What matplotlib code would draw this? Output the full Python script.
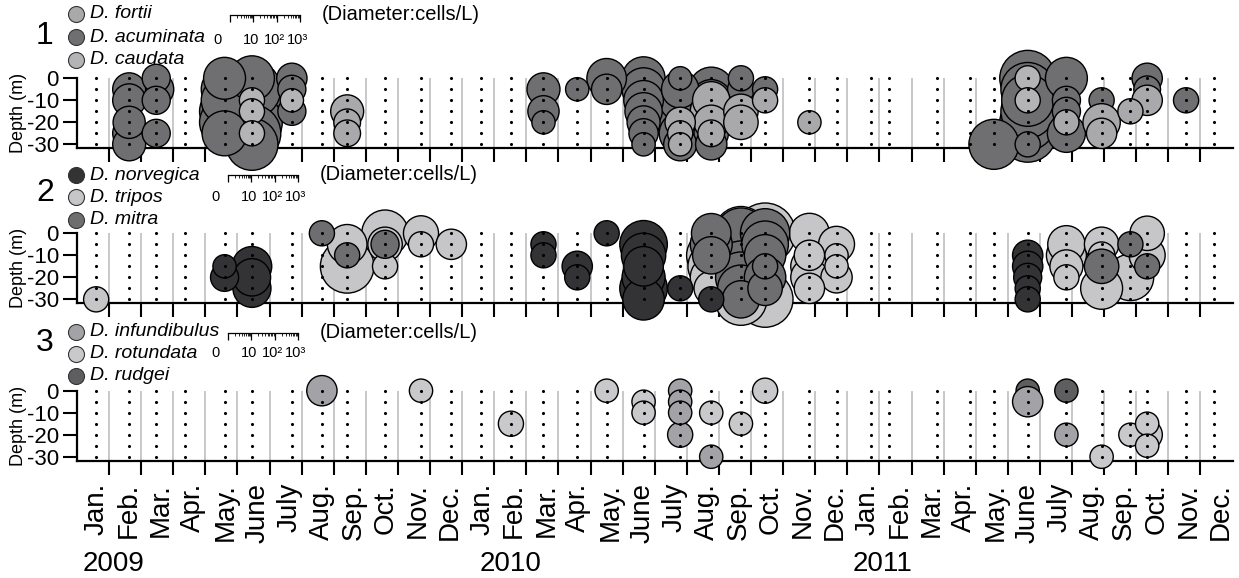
import calendar
import numpy as np
import matplotlib.pyplot as plt
from matplotlib.transforms import blended_transform_factory

plt.rcParams['font.family'] = ['Liberation Sans', 'DejaVu Sans']

W, H = 1239, 578

# sampling dates (one cruise per month)
sample_dates = [
    '2009-01-19', '2009-02-18', '2009-03-15', '2009-04-11', '2009-05-19', '2009-06-14',
    '2009-07-22', '2009-08-20', '2009-09-13', '2009-10-19', '2009-11-22', '2009-12-21',
    '2010-01-19', '2010-02-15', '2010-03-17', '2010-04-18', '2010-05-16', '2010-06-20',
    '2010-07-25', '2010-08-24', '2010-09-21', '2010-10-14', '2010-11-25', '2010-12-21',
    '2011-01-23', '2011-02-09', '2011-03-25', '2011-04-25', '2011-05-18', '2011-06-19',
    '2011-07-26', '2011-08-29', '2011-09-25', '2011-10-11', '2011-11-17', '2011-12-14',
]
depths = [0, -5, -10, -15, -20, -25, -30]

month_names = ['Jan.', 'Feb.', 'Mar.', 'Apr.', 'May.', 'June', 'July',
               'Aug.', 'Sep.', 'Oct.', 'Nov.', 'Dec.']
years = ['2009', '2010', '2011']
year_pos = [1.14, 13.5, 25.1]

# (month, depth m, cells/L)
fortii = [('2009-09', -15, 26), ('2009-09', -20, 14), ('2009-09', -25, 14),
          ('2010-07', -20, 20), ('2010-07', -25, 12), ('2010-07', -30, 10),
          ('2010-08', -10, 40), ('2010-08', -15, 63), ('2010-08', -20, 30), ('2010-08', -25, 14),
          ('2010-09', -15, 30), ('2010-09', -20, 30),
          ('2010-10', -10, 12), ('2010-11', -20, 10),
          ('2011-07', -20, 12), ('2011-08', -20, 40), ('2011-08', -25, 20),
          ('2011-09', -15, 12), ('2011-10', -10, 20)]
acuminata = [('2009-02', -5, 26), ('2009-02', -10, 26), ('2009-02', -20, 24), ('2009-02', -25, 26), ('2009-02', -30, 26),
             ('2009-03', 0, 16), ('2009-03', -5, 32), ('2009-03', -10, 16), ('2009-03', -25, 16),
             ('2009-05', 0, 63), ('2009-05', -5, 100), ('2009-05', -10, 100), ('2009-05', -15, 140),
             ('2009-05', -20, 140), ('2009-05', -25, 85),
             ('2009-06', 0, 85), ('2009-06', -5, 300), ('2009-06', -10, 400), ('2009-06', -15, 460),
             ('2009-06', -20, 400), ('2009-06', -25, 300), ('2009-06', -30, 170),
             ('2009-07', 0, 20), ('2009-07', -5, 16), ('2009-07', -15, 16),
             ('2010-03', -5, 26), ('2010-03', -15, 22), ('2010-03', -20, 10),
             ('2010-04', -5, 10),
             ('2010-05', 0, 50), ('2010-05', -5, 20),
             ('2010-06', 0, 70), ('2010-06', -5, 70), ('2010-06', -10, 50), ('2010-06', -15, 40),
             ('2010-06', -20, 26), ('2010-06', -25, 18), ('2010-06', -30, 10),
             ('2010-07', 0, 10), ('2010-07', -5, 40), ('2010-07', -10, 63), ('2010-07', -15, 130),
             ('2010-07', -20, 130), ('2010-07', -25, 63), ('2010-07', -30, 26),
             ('2010-08', -5, 80), ('2010-08', -10, 60), ('2010-08', -25, 30), ('2010-08', -30, 22),
             ('2010-09', 0, 12), ('2010-09', -5, 14), ('2010-09', -10, 16), ('2010-09', -15, 14),
             ('2010-10', -5, 12),
             ('2011-05', -30, 140),
             ('2011-06', 0, 250), ('2011-06', -5, 200), ('2011-06', -10, 170), ('2011-06', -15, 200),
             ('2011-06', -20, 250), ('2011-06', -25, 300), ('2011-06', -30, 12),
             ('2011-07', 0, 63), ('2011-07', -10, 16), ('2011-07', -15, 16), ('2011-07', -25, 43),
             ('2011-08', -10, 12),
             ('2011-10', 0, 20), ('2011-10', -5, 14),
             ('2011-11', -10, 12)]
caudata = [('2009-06', -10, 12), ('2009-06', -15, 12), ('2009-06', -25, 12),
           ('2009-07', -10, 10),
           ('2011-06', 0, 12), ('2011-06', -10, 12)]

norvegica = [('2009-05', -15, 10), ('2009-05', -20, 16),
             ('2009-06', -15, 50), ('2009-06', -20, 40), ('2009-06', -25, 43),
             ('2010-03', -5, 12), ('2010-03', -10, 12),
             ('2010-04', -15, 20), ('2010-04', -20, 12),
             ('2010-05', 0, 12),
             ('2010-06', -5, 110), ('2010-06', -10, 80), ('2010-06', -15, 50), ('2010-06', -20, 70),
             ('2010-06', -25, 110), ('2010-06', -30, 60),
             ('2010-07', -25, 12), ('2010-08', -30, 12),
             ('2011-06', -10, 20), ('2011-06', -15, 20), ('2011-06', -20, 16), ('2011-06', -25, 12),
             ('2011-06', -30, 12)]
tripos = [('2009-01', -30, 12),
          ('2009-09', -5, 50), ('2009-09', -15, 200),
          ('2009-10', 0, 100), ('2009-10', -5, 30), ('2009-10', -15, 12),
          ('2009-11', 0, 32), ('2009-11', -5, 12),
          ('2009-12', -5, 20),
          ('2010-08', -10, 130), ('2010-08', -15, 100), ('2010-08', -20, 63), ('2010-08', -25, 30),
          ('2010-09', 0, 200), ('2010-09', -10, 200), ('2010-09', -20, 170), ('2010-09', -30, 170),
          ('2010-10', 0, 400), ('2010-10', -30, 250),
          ('2010-11', 0, 52), ('2010-11', -10, 20), ('2010-11', -15, 40), ('2010-11', -20, 40), ('2010-11', -25, 20),
          ('2010-12', -5, 35), ('2010-12', -10, 10), ('2010-12', -15, 10), ('2010-12', -20, 22),
          ('2011-07', -5, 40), ('2011-07', -10, 52), ('2011-07', -15, 26), ('2011-07', -20, 12),
          ('2011-08', -5, 30), ('2011-08', -10, 14), ('2011-08', -25, 63),
          ('2011-09', -20, 100),
          ('2011-10', 0, 30), ('2011-10', -10, 35)]
mitra = [('2009-08', 0, 12), ('2009-09', -10, 12), ('2009-10', -5, 16),
         ('2010-08', 0, 50), ('2010-08', -5, 63), ('2010-08', -10, 40),
         ('2010-09', 0, 150), ('2010-09', -5, 170), ('2010-09', -10, 170), ('2010-09', -15, 150),
         ('2010-09', -20, 150), ('2010-09', -25, 100), ('2010-09', -30, 40),
         ('2010-10', 0, 130), ('2010-10', -5, 100), ('2010-10', -10, 60), ('2010-10', -15, 12),
         ('2010-10', -20, 60), ('2010-10', -25, 30),
         ('2011-08', -15, 30), ('2011-09', -5, 12), ('2011-10', -15, 12)]

infundibulus = [('2009-08', 0, 20),
                ('2010-07', 0, 10), ('2010-07', -5, 10), ('2010-07', -10, 10), ('2010-07', -20, 12),
                ('2010-08', -30, 10),
                ('2011-06', -5, 20), ('2011-07', -20, 10)]
rotundata = [('2009-11', 0, 10), ('2010-02', -15, 12), ('2010-05', 0, 10),
             ('2010-06', -5, 10), ('2010-06', -10, 10), ('2010-08', -10, 10),
             ('2010-09', -15, 10), ('2010-10', 0, 12),
             ('2011-08', -30, 10), ('2011-09', -20, 10),
             ('2011-10', -15, 10), ('2011-10', -20, 20), ('2011-10', -25, 10)]
rudgei = [('2011-06', 0, 10), ('2011-07', 0, 10)]

ruler_labels = ['0', '10', '10²', '10³']


def month_pos(s):
    y, m, d = map(int, s.split('-'))
    ndays = calendar.monthrange(y, m)[1]
    return (y - 2009) * 12 + (m - 1) + (d - 0.5) / ndays

sample_x = {s[:7]: month_pos(s) for s in sample_dates}

PX_PER_DECADE = 23.3  # bubble diameter (px) per decade of cells/L


def size_of(cells):
    d_px = PX_PER_DECADE * np.log10(np.asarray(cells, dtype=float))
    return (d_px * 72 / 100) ** 2


fig = plt.figure(figsize=(W / 100, H / 100), dpi=100)

# panel: number, legend entries, drawing order, geometry in px
panels = [
    dict(num='1', legend=[('D. fortii', '#a9a9ab'), ('D. acuminata', '#6f6f71'), ('D. caudata', '#b4b4b6')],
         order=[(acuminata, '#6f6f71'), (fortii, '#a9a9ab'), (caudata, '#b4b4b6')],
         base=148.3, rows=[14, 37, 60], num_y=36, bar=(230, 15), bar_lab=40),
    dict(num='2', legend=[('D. norvegica', '#333335'), ('D. tripos', '#c6c6c8'), ('D. mitra', '#6e6e70')],
         order=[(tripos, '#c6c6c8'), (mitra, '#6e6e70'), (norvegica, '#333335')],
         base=303.3, rows=[175, 197, 220], num_y=193, bar=(228, 175), bar_lab=197),
    dict(num='3', legend=[('D. infundibulus', '#a3a3a7'), ('D. rotundata', '#c9c9cb'), ('D. rudgei', '#5e5e60')],
         order=[(rudgei, '#5e5e60'), (rotundata, '#c9c9cb'), (infundibulus, '#a3a3a7')],
         base=460.7, rows=[332, 354, 376], num_y=343, bar=(228, 333), bar_lab=353),
]

ov = fig.add_axes([0, 0, 1, 1], zorder=10)
ov.set_xlim(0, W)
ov.set_ylim(H, 0)
ov.axis('off')

X0, XW = 77, 1155.6
YTOP = -31.8
axes = []
for p in panels:
    ax = fig.add_axes([X0 / W, 1 - p['base'] / H, XW / W, 70 / H])
    axes.append(ax)
    ax.set_xlim(0, 36)
    ax.set_ylim(YTOP, 0)
    ax.patch.set_visible(False)
    for sp in ['top', 'right']:
        ax.spines[sp].set_visible(False)
    for sp in ['left', 'bottom']:
        ax.spines[sp].set_linewidth(1.6)
    ax.vlines(np.arange(1, 36), YTOP, 0, color='#b9b9b9', lw=1.1, zorder=0)
    ax.set_xticks(np.arange(1, 36))
    ax.set_xticklabels([])
    ax.set_yticks([0, -10, -20, -30])
    ax.set_yticklabels(['0', '-10', '-20', '-30'])
    ax.tick_params(axis='both', length=10, width=1.5, labelsize=16, pad=3)
    ax.set_ylabel('Depth (m)', fontsize=13)
    ax.yaxis.set_label_coords(-0.043, 0.5)

    for data, col in p['order']:
        pts = sorted(data, key=lambda t: -t[2])
        xs = [sample_x[m] for m, _, _ in pts]
        ys = [d for _, d, _ in pts]
        ss = size_of([c for _, _, c in pts])
        ax.scatter(xs, ys, s=ss, c=col, edgecolors='black', linewidths=1.0,
                   clip_on=False, zorder=3)

    gx, gy = np.meshgrid([sample_x[s[:7]] for s in sample_dates], depths)
    ax.scatter(gx.ravel(), gy.ravel(), s=5, c='black', linewidths=0, zorder=6, clip_on=False)

    # legend
    ov.text(45, p['num_y'], p['num'], fontsize=23, ha='center', va='center')
    for (name, col), ry in zip(p['legend'], p['rows']):
        ov.scatter([76], [ry], s=(16 * 0.72) ** 2, c=col, edgecolors='#333333', linewidths=0.8)
        ov.text(90, ry, name, fontsize=14, style='italic', ha='left', va='center')

    # log ruler for bubble diameter
    bx, by = p['bar']
    rax = fig.add_axes([bx / W, 1 - (by + 8) / H, 70 / W, 8 / H])
    rax.set_xscale('log')
    rax.set_xlim(1, 1000)
    rax.set_ylim(0, 1)
    rax.patch.set_visible(False)
    for sp in ['bottom', 'left', 'right']:
        rax.spines[sp].set_visible(False)
    rax.spines['top'].set_linewidth(0.9)
    rax.set_yticks([])
    rax.xaxis.set_ticks_position('top')
    rax.tick_params(axis='x', which='major', direction='in', length=5, width=0.9, labeltop=False)
    rax.tick_params(axis='x', which='minor', direction='in', length=2.5, width=0.6)
    for lab, dx in zip(ruler_labels, [-12, 21, 44, 67]):
        ov.text(bx + dx, p['bar_lab'], lab, fontsize=10.5, ha='center', va='center')
    ov.text(bx + 92, by, '(Diameter:cells/L)', fontsize=14.5, ha='left', va='center')

# month and year labels under the bottom panel
ax3 = axes[-1]
tr = blended_transform_factory(ax3.transData, fig.transFigure)
for i in range(36):
    ax3.text(i + 0.62, 1 - 483 / H, month_names[i % 12], transform=tr, rotation=90,
             ha='center', va='top', fontsize=20)
for yr, xp in zip(years, year_pos):
    ax3.text(xp, 1 - 564 / H, yr, transform=tr, ha='center', va='center', fontsize=20)

fig.savefig('out.png', dpi=100)
